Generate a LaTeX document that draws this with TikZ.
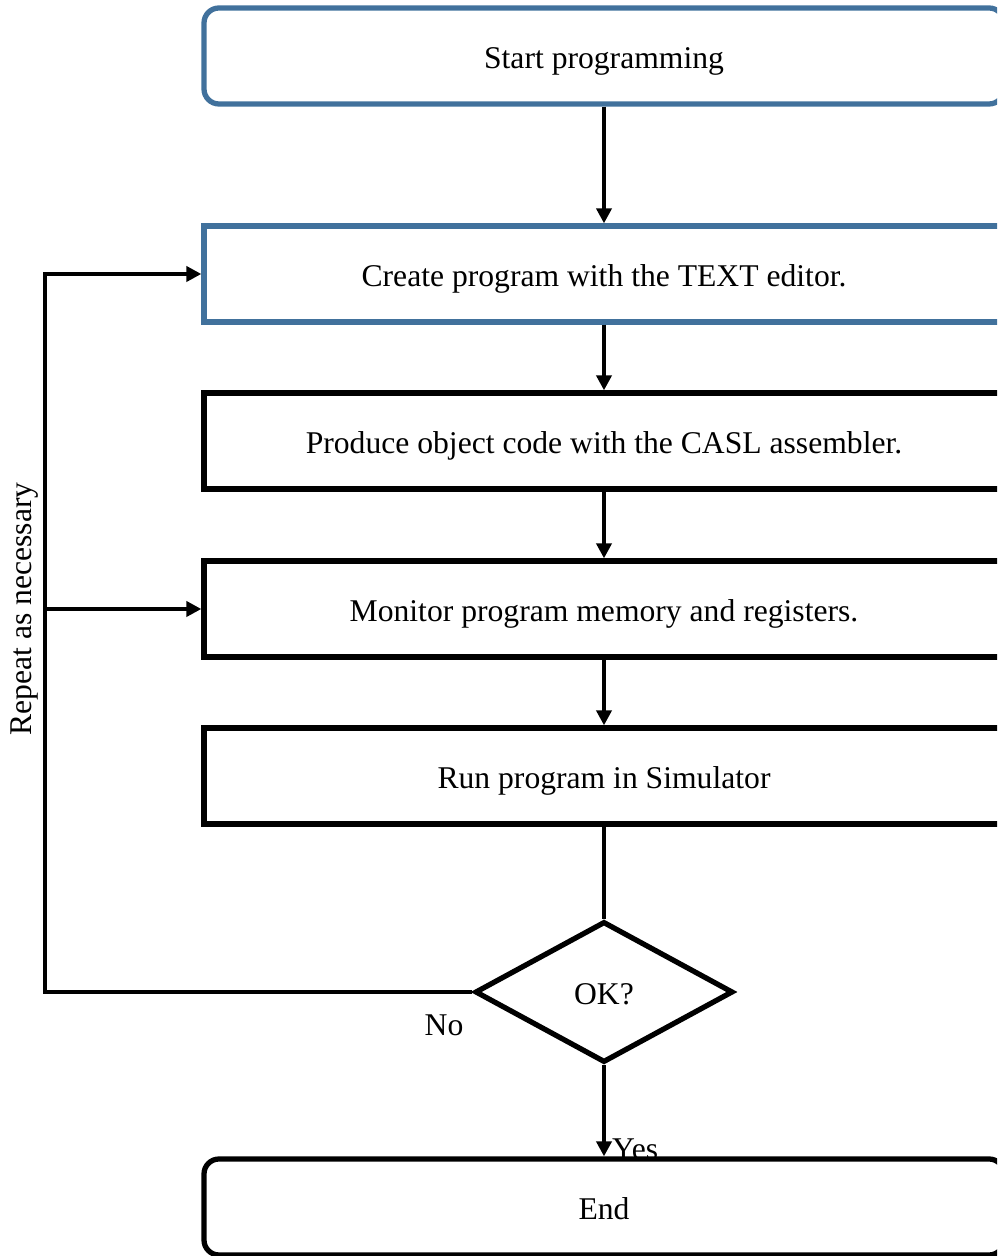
\documentclass[tikz,border=0pt]{standalone}
\usepackage{fontspec}
\setmainfont{Liberation Serif}
\usepackage{tikz}
\usetikzlibrary{calc,positioning,shapes.geometric,arrows.meta}
\usepackage{xcolor}
\definecolor{boxblue}{HTML}{41719C}
\tikzset{
  stepbox/.style={
    draw,
    rectangle,
    minimum width=16cm,
    minimum height=1.92cm,
    text height=0.62cm,
    text depth=0.1cm,
    line width=3pt,
    font=\fontsize{18}{22}\selectfont,
  },
  termbox/.style={
    stepbox,
    rounded corners=0.3cm,
  },
  decision/.style={
    draw,
    diamond,
    minimum width=5.16cm,
    minimum height=2.82cm,
    text height=0.62cm,
    text depth=0.1cm,
    inner sep=0pt,
    line width=3pt,
    font=\fontsize{18}{22}\selectfont,
  },
  flow/.style={line width=2.4pt, -{Triangle[length=8.5pt,width=8.5pt]}},
  plain/.style={line width=2.4pt},
  lbl/.style={font=\fontsize{18}{22}\selectfont, inner sep=1pt},
}
\begin{document}
\begin{tikzpicture}
  \path[use as bounding box, clip] (0,0) rectangle (19.94,25.12);
  \node[termbox, draw=boxblue] (start) at (12.08, 24.0) {Start programming};
  \node[stepbox, draw=boxblue] (create) at (12.08, 19.64) {Create program with the TEXT editor.};
  \node[stepbox] (produce) at (12.08, 16.3) {Produce object code with the CASL assembler.};
  \node[stepbox] (monitor) at (12.08, 12.94) {Monitor program memory and registers.};
  \node[stepbox] (run) at (12.08, 9.6) {Run program in Simulator};
  \node[decision] (ok) at (12.08, 5.28) {OK?};
  \node[termbox] (end) at (12.08, 0.98) {End};
  \draw[flow] (start) -- (create);
  \draw[flow] (create) -- (produce);
  \draw[flow] (produce) -- (monitor);
  \draw[flow] (monitor) -- (run);
  \draw[plain] (run) -- (ok);
  \draw[flow] (ok) -- (end);
  % loop back on the left
  \coordinate (loop) at (0.9, 5.28);
  \draw[flow] (ok.west) -- (loop) |- (create.west);
  \draw[flow] (loop |- monitor.west) -- (monitor.west);
  \node[lbl, rotate=90] (repeat) at (0.5, 12.94) {Repeat as necessary};
  \node[lbl] (no) at (8.88, 4.62) {No};
  \node[lbl, anchor=south west] (yes) at ([xshift=0.12cm, yshift=-0.12cm]end.north) {Yes};
\end{tikzpicture}
\end{document}
